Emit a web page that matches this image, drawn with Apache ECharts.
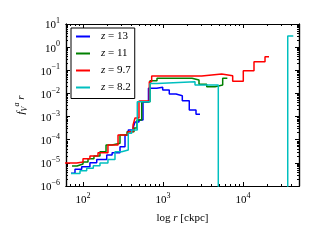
<!DOCTYPE html>
<html><head><meta charset="utf-8">
<script src="https://cdn.jsdelivr.net/npm/echarts@6/dist/echarts.min.js"></script>
<style>html,body{margin:0;padding:0;background:#fff}#c{width:318px;height:240px}</style>
</head><body><div id="c"></div>
<script>
const xMin = 61.3, xMax = 50100;
const yMin = 1e-6, yMax = 10;
const xMajorTicks = [100, 1000, 10000];
const yMajorTicks = [1e-6, 1e-5, 1e-4, 1e-3, 1e-2, 1e-1, 1, 10];
const seriesNames = ['z = 13', 'z = 11', 'z = 9.7', 'z = 8.2'];
const seriesColors = ['#0000ff', '#008000', '#ff0000', '#00bfbf'];

const r13 = [70.8, 79.4, 96.3, 122, 148.4, 197.9, 231, 290, 335, 368, 422, 447, 501, 562, 658, 834, 991, 1198, 1454, 1743, 2130, 2585, 2900];
const f13 = [3.6e-6, 5.3e-6, 6.8e-6, 1.0e-5, 1.4e-5, 2.2e-5, 2.7e-5, 5.0e-5, 1.6e-4, 2.6e-4, 3.2e-4, 5.8e-4, 7.1e-4, 4.3e-3, 0.0166, 0.0184, 0.0141, 0.0094, 0.0080, 0.0048, 0.0019, 0.00125, 0.00125];

const r11 = [72.9, 84.1, 100, 115.5, 137, 163, 194, 231, 290, 355, 434, 473, 541.5, 688, 841, 2304, 2818, 3518, 4467, 5572, 6368];
const f11 = [7.3e-6, 8.9e-6, 1.1e-5, 1.5e-5, 2.0e-5, 3.0e-5, 5.9e-5, 7.0e-5, 1.6e-4, 2.2e-4, 3.2e-4, 7.1e-4, 4.4e-3, 0.0355, 0.045, 0.038, 0.025, 0.0195, 0.023, 0.045, 0.045];

const r97 = [55, 83.4, 100, 122, 154, 205, 274, 365, 422, 447, 501, 674, 722, 3045, 5415, 7430, 10080, 13720, 18840, 21130];
const f97 = [9.8e-6, 1.1e-5, 1.5e-5, 2.0e-5, 2.7e-5, 5.9e-5, 1.6e-4, 2.2e-4, 4.3e-4, 8.7e-4, 4.7e-3, 0.032, 0.057, 0.069, 0.058, 0.034, 0.096, 0.235, 0.386, 0.386];

const r82 = [70.8, 91.7, 111.2, 134.5, 163, 205, 251, 304.5, 368, 406, 477, 688, 841, 2512, 4910, 36220, 42540];
const f82 = [3.5e-6, 4.6e-6, 5.8e-6, 7.5e-6, 9.8e-6, 1.4e-5, 3.0e-5, 3.6e-5, 1.9e-4, 2.6e-4, 4.4e-3, 0.027, 0.032, 0.023, 1e-9, 3.0, 3.0];

function minorTicks(lo, hi) {
  const out = [];
  for (let e = lo; e <= hi; e++) for (let m = 2; m <= 9; m++) out.push(m * Math.pow(10, e));
  return out;
}
const xMinorTicks = minorTicks(1, 4);
const yMinorTicks = minorTicks(-6, 0);

const SERIF = 'Liberation Serif';
function powLabel(v) {
  const e = Math.round(Math.log10(v));
  return '{b|10}{s|' + (e < 0 ? '\u2212' + (-e) : e) + '}';
}
const tickRich = {
  b: { fontFamily: SERIF, fontSize: 11, color: '#000', verticalAlign: 'bottom', lineHeight: 14 },
  s: { fontFamily: SERIF, fontSize: 8, color: '#000', verticalAlign: 'top', lineHeight: 14 }
};

function xAx(pos, ticks, len, withLabel, extra) {
  return Object.assign({
    type: 'log', position: pos, min: xMin, max: xMax,
    axisLine: { show: true, onZero: false, lineStyle: { color: '#000', width: 1.2 } },
    axisTick: { show: true, inside: true, length: len, customValues: ticks, lineStyle: { color: '#000', width: 1 } },
    axisLabel: withLabel ? { show: true, customValues: xMajorTicks, formatter: powLabel, rich: tickRich, margin: 6 } : { show: false },
    splitLine: { show: false }, minorTick: { show: false }, minorSplitLine: { show: false }
  }, extra || {});
}
function yAx(pos, ticks, len, withLabel, extra) {
  return Object.assign({
    type: 'log', position: pos, min: yMin, max: yMax,
    axisLine: { show: true, onZero: false, lineStyle: { color: '#000', width: 1.2 } },
    axisTick: { show: true, inside: true, length: len, customValues: ticks, lineStyle: { color: '#000', width: 1 } },
    axisLabel: withLabel ? { show: true, customValues: yMajorTicks, formatter: powLabel, rich: tickRich, margin: 6 } : { show: false },
    splitLine: { show: false }, minorTick: { show: false }, minorSplitLine: { show: false }
  }, extra || {});
}

const rs = [r13, r11, r97, r82], fs = [f13, f11, f97, f82];
const series = seriesNames.map((name, k) => ({
  name: name, type: 'line', step: 'end', symbol: 'none', clip: true,
  xAxisIndex: 0, yAxisIndex: 0,
  data: rs[k].map((x, i) => [x, fs[k][i]]),
  lineStyle: { color: seriesColors[k], width: 1.5 },
  itemStyle: { color: seriesColors[k] },
  z: 2 + k
}));

const chart = echarts.init(document.getElementById('c'), null, { renderer: 'canvas' });
chart.setOption({
  animation: false,
  backgroundColor: '#fff',
  grid: { left: 66, top: 24, right: 19, bottom: 54, containLabel: false, outerBoundsMode: 'none' },
  xAxis: [
    xAx('bottom', xMajorTicks, 4, true, {
      name: '{n|log }{i|r}{n| [ckpc]}', nameLocation: 'middle', nameGap: 27,
      nameTextStyle: { rich: {
        n: { fontFamily: SERIF, fontSize: 11, color: '#000' },
        i: { fontFamily: SERIF, fontSize: 11, fontStyle: 'italic', color: '#000' } } }
    }),
    xAx('bottom', xMinorTicks, 2, false),
    xAx('top', xMajorTicks, 4, false),
    xAx('top', xMinorTicks, 2, false)
  ],
  yAxis: [
    yAx('left', yMajorTicks, 4, true, {
      name: '{i|f}{sub|V}{sup|a}{i| r}', nameLocation: 'middle', nameGap: 37,
      nameTextStyle: { rich: {
        i: { fontFamily: SERIF, fontSize: 11, fontStyle: 'italic', color: '#000', verticalAlign: 'middle', lineHeight: 16 },
        sub: { fontFamily: SERIF, fontSize: 8, fontStyle: 'italic', color: '#000', verticalAlign: 'bottom', lineHeight: 16 },
        sup: { fontFamily: SERIF, fontSize: 8, fontStyle: 'italic', color: '#000', verticalAlign: 'top', lineHeight: 16 } } }
    }),
    yAx('left', yMinorTicks, 2, false),
    yAx('right', yMajorTicks, 4, false),
    yAx('right', yMinorTicks, 2, false)
  ],
  legend: {
    show: true, orient: 'vertical', left: 71, top: 28,
    data: seriesNames,
    icon: 'rect', itemWidth: 14, itemHeight: 2, itemGap: 6,
    padding: [3, 4, 5.5, 5],
    borderColor: '#000', borderWidth: 1, backgroundColor: '#fff',
    formatter: function (name) { return '{i|z}{t|' + name.slice(1) + '}'; },
    textStyle: { fontFamily: SERIF, fontSize: 11, color: '#000', lineHeight: 9,
      rich: {
        i: { fontFamily: SERIF, fontSize: 11, fontStyle: 'italic', color: '#000', padding: [0, 0, 0, 6], lineHeight: 9 },
        t: { fontFamily: SERIF, fontSize: 11, color: '#000', lineHeight: 9 } } }
  },
  series: series
});
</script></body></html>
